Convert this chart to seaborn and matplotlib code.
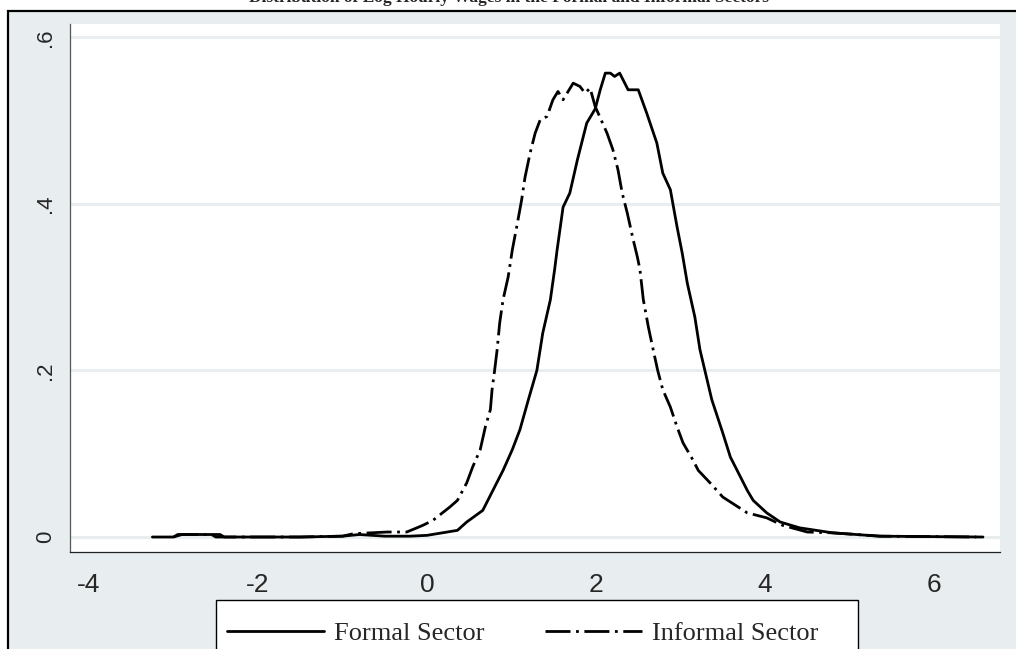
import matplotlib
matplotlib.use("Agg")
import matplotlib.pyplot as plt
import matplotlib.patches as mpatches
from matplotlib import font_manager
import pandas as pd
import seaborn as sns

# density values
formal_x = [-3.25, -3.0, -2.95, -2.55, -2.5, -2.0, -1.5, -1.0, -0.8, -0.5,
            -0.2, 0.0, 0.24, 0.36, 0.47, 0.66, 0.78, 0.90, 1.01, 1.10,
            1.20, 1.30, 1.37, 1.46, 1.51, 1.54, 1.61, 1.69, 1.78, 1.89,
            1.99, 2.05, 2.11, 2.17, 2.22, 2.28, 2.38, 2.50, 2.60, 2.72,
            2.79, 2.88, 2.96, 3.02, 3.08, 3.17, 3.23, 3.37, 3.50, 3.59,
            3.79, 3.86, 4.02, 4.18, 4.41, 4.80, 5.36, 6.58]
formal_y = [0.0, 0.0, 0.003, 0.003, 0.0, 0.0, 0.0, 0.001, 0.003, 0.001,
            0.001, 0.002, 0.006, 0.008, 0.018, 0.032, 0.056, 0.080, 0.105, 0.129,
            0.165, 0.200, 0.245, 0.285, 0.321, 0.345, 0.396, 0.413, 0.453, 0.497,
            0.514, 0.537, 0.557, 0.557, 0.553, 0.557, 0.537, 0.537, 0.509, 0.473,
            0.437, 0.417, 0.372, 0.341, 0.305, 0.264, 0.225, 0.165, 0.125, 0.096,
            0.056, 0.044, 0.029, 0.018, 0.011, 0.005, 0.001, 0.0]

informal_x = [-3.0, -2.9, -2.45, -2.4, -1.5, -1.0, -0.87, -0.47, -0.24, -0.12,
              -0.05, 0.07, 0.27, 0.36, 0.47, 0.54, 0.63, 0.69, 0.75, 0.77,
              0.80, 0.83, 0.86, 0.90, 0.96, 1.01, 1.07, 1.12, 1.16, 1.22,
              1.28, 1.34, 1.42, 1.49, 1.55, 1.61, 1.73, 1.81, 1.87, 1.93,
              1.99, 2.13, 2.20, 2.26, 2.31, 2.37, 2.44, 2.49, 2.52, 2.56,
              2.62, 2.67, 2.73, 2.79, 2.88, 2.96, 3.03, 3.15, 3.21, 3.35,
              3.50, 3.79, 4.02, 4.21, 4.50, 4.80, 5.36, 6.5]
informal_y = [0.0, 0.003, 0.003, 0.0, 0.0, 0.001, 0.004, 0.006, 0.006, 0.011,
              0.014, 0.020, 0.036, 0.044, 0.065, 0.084, 0.105, 0.132, 0.153, 0.177,
              0.200, 0.225, 0.257, 0.285, 0.312, 0.345, 0.377, 0.405, 0.432, 0.461,
              0.485, 0.501, 0.505, 0.525, 0.535, 0.525, 0.545, 0.541, 0.533, 0.539,
              0.517, 0.485, 0.465, 0.441, 0.413, 0.389, 0.357, 0.336, 0.321, 0.285,
              0.252, 0.228, 0.200, 0.177, 0.156, 0.132, 0.113, 0.092, 0.080, 0.065,
              0.048, 0.029, 0.023, 0.014, 0.006, 0.005, 0.001, 0.0]

x_ticks = [-4, -2, 0, 2, 4, 6]
y_ticks = [0, 0.2, 0.4, 0.6]
y_labels = ["0", ".2", ".4", ".6"]

title = "Distribution of Log Hourly Wages in the Formal and Informal Sectors"
series_names = ["Formal Sector", "Informal Sector"]

sns.set_style("white")
plt.rcParams["font.family"] = ["Liberation Sans", "DejaVu Sans"]

installed = {f.name for f in font_manager.fontManager.ttflist}
narrow = "Liberation Sans Narrow" if "Liberation Sans Narrow" in installed else "Liberation Sans"

bg = "#e8eeef"
fig = plt.figure(figsize=(10.16, 6.49), dpi=100)

# outer stata-like frame
frame = mpatches.Rectangle((8 / 1016, -0.1), 1.2, (649 - 11) / 649 + 0.1,
                           transform=fig.transFigure, facecolor=bg,
                           edgecolor="black", linewidth=1.6, zorder=-5)
fig.patches.append(frame)

ax = fig.add_axes([70 / 1016, 97 / 649, 930 / 1016, 528 / 649])
ax.set_zorder(2)
ax.set_facecolor("white")

df_formal = pd.DataFrame({"x": formal_x, "y": formal_y})
df_informal = pd.DataFrame({"x": informal_x, "y": informal_y})
sns.lineplot(data=df_formal, x="x", y="y", ax=ax, color="black",
             linewidth=2.0, estimator=None, label=series_names[0])
sns.lineplot(data=df_informal, x="x", y="y", ax=ax, color="black",
             linewidth=2.0, estimator=None, linestyle=(0, (9, 2, 1, 2)),
             label=series_names[1])

ax.set_xlim(-4.225, 6.781)
ax.set_ylim(-0.018, 0.616)
ax.set_xticks(x_ticks)
ax.set_xticklabels([str(t) for t in x_ticks], family=narrow, fontsize=19)
ax.set_yticks(y_ticks)
ax.set_yticklabels(y_labels, rotation=90, va="center", fontsize=16)
ax.set_xlabel("")
ax.set_ylabel("")
ax.grid(axis="y", color=bg, linewidth=2.2)
ax.grid(axis="x", visible=False)
ax.set_axisbelow(True)

for side in ["top", "right"]:
    ax.spines[side].set_visible(False)
ax.spines["left"].set_color("#555555")
ax.spines["left"].set_linewidth(0.9)
ax.spines["bottom"].set_color("#222222")
ax.spines["bottom"].set_linewidth(0.9)
ax.tick_params(axis="y", direction="out", length=6, width=0.9,
               color="#555555", pad=4)
ax.tick_params(axis="x", direction="out", length=7, width=0.9,
               color="#555555", pad=8)

ax.legend_.remove()
handles, labels = ax.get_legend_handles_labels()

# legend box
box = mpatches.Rectangle((216 / 1016, -0.1), 642 / 1016, 49 / 649 + 0.1,
                         transform=fig.transFigure, facecolor="white",
                         edgecolor="black", linewidth=1.0, zorder=1)
fig.patches.append(box)
leg = fig.legend(handles, labels, loc="center left",
                 bbox_to_anchor=(222 / 1016, 16 / 649), ncol=2,
                 frameon=False, handlelength=3.67, handletextpad=0.38,
                 columnspacing=2.3, borderpad=0.2, borderaxespad=0,
                 prop={"family": "Liberation Serif", "size": 19})
leg.set_zorder(6)

fig.text(0.501, 1 - 2 / 649, title, ha="center", va="baseline",
         family="Liberation Serif", weight="bold", fontsize=12.5)

fig.savefig("out.png", dpi=100)
